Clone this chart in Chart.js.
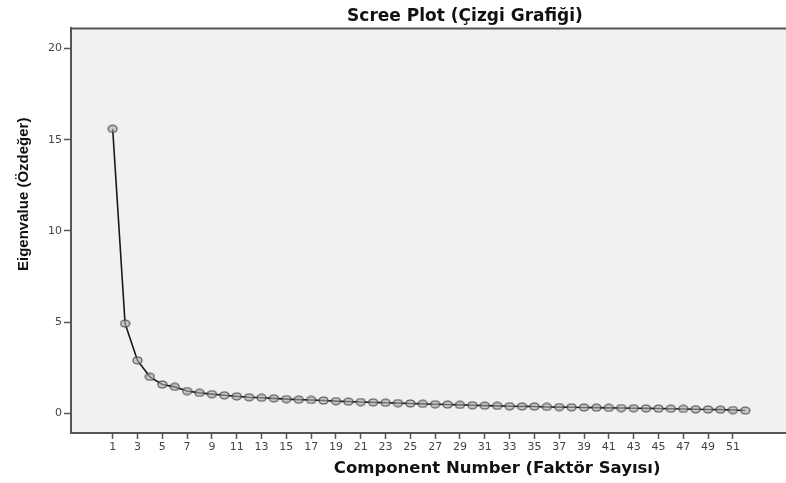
<!DOCTYPE html>
<html>
<head>
<meta charset="utf-8">
<script src="https://cdn.jsdelivr.net/npm/chart.js@4/dist/chart.umd.min.js"></script>
<style>
html,body{margin:0;padding:0;overflow:hidden;background:#fff;width:786px;height:483px;}
canvas{display:block;}
</style>
</head>
<body>
<canvas id="c" width="930" height="483"></canvas>
<script>
const components = [1,2,3,4,5,6,7,8,9,10,11,12,13,14,15,16,17,18,19,20,21,22,23,24,25,26,27,28,29,30,31,32,33,34,35,36,37,38,39,40,41,42,43,44,45,46,47,48,49,50,51,52];
const eigenvalues = [15.6,4.92,2.9,2.0,1.58,1.45,1.22,1.12,1.05,0.99,0.93,0.88,0.85,0.82,0.78,0.75,0.73,0.70,0.67,0.64,0.62,0.60,0.58,0.56,0.54,0.52,0.50,0.48,0.46,0.44,0.42,0.41,0.39,0.38,0.37,0.35,0.34,0.33,0.32,0.31,0.30,0.29,0.28,0.27,0.26,0.25,0.24,0.22,0.21,0.20,0.18,0.15];
const xTickValues = [1,3,5,7,9,11,13,15,17,19,21,23,25,27,29,31,33,35,37,39,41,43,45,47,49,51];
const yTickValues = [0,5,10,15,20];
const titleText = 'Scree Plot (Çizgi Grafiği)';
const xTitle = 'Component Number (Faktör Sayısı)';
const yTitle = 'Eigenvalue (Özdeğer)';

// elliptical marker
const mk = document.createElement('canvas');
mk.width = 11; mk.height = 9;
(function(){
  const g = mk.getContext('2d');
  g.beginPath();
  g.ellipse(5.5, 4.5, 4.5, 3.5, 0, 0, Math.PI*2);
  g.fillStyle = 'rgba(175,175,175,0.6)';
  g.fill();
  g.lineWidth = 1.1;
  g.strokeStyle = '#444';
  g.stroke();
})();

const decor = {
  id: 'decor',
  beforeDraw(chart){
    const {ctx, chartArea:a} = chart;
    ctx.save();
    ctx.fillStyle = '#f0f1f1';
    ctx.fillRect(a.left, a.top, a.right - a.left, a.bottom - a.top);
    ctx.strokeStyle = '#555';
    ctx.lineWidth = 2;
    ctx.beginPath();
    ctx.moveTo(a.left, a.top);
    ctx.lineTo(a.right, a.top);
    ctx.stroke();
    ctx.restore();
  },
  afterDraw(chart){
    const {ctx, chartArea:a} = chart;
    ctx.save();
    ctx.font = 'bold 15px "Liberation Sans", Arial, sans-serif';
    ctx.fillStyle = '#111';
    ctx.textAlign = 'center';
    ctx.textBaseline = 'middle';
    ctx.translate(24, a.top + (a.bottom - a.top) * 0.41);
    ctx.rotate(-Math.PI/2);
    ctx.fillText(yTitle, 0, 0);
    ctx.restore();
  }
};

new Chart(document.getElementById('c'), {
  type: 'line',
  data: {
    datasets: [{
      data: components.map((c,i)=>({x:c, y:eigenvalues[i]})),
      borderColor: '#1a1a1a',
      borderWidth: 1.6,
      tension: 0,
      pointStyle: mk,
      pointRadius: 5,
      pointHoverRadius: 5
    }]
  },
  options: {
    responsive: false,
    animation: false,
    layout: {padding: {left:0, right:0, top:0, bottom:0}},
    plugins: {
      legend: {display:false},
      tooltip: {enabled:false},
      title: {
        display: true,
        text: titleText,
        color: '#111',
        font: {family:'"DejaVu Sans", sans-serif', size:17, weight:'bold'},
        padding: {top:6, bottom:2}
      }
    },
    scales: {
      x: {
        type: 'linear',
        min: -2.36,
        max: 66.36,
        afterBuildTicks(s){ s.ticks = xTickValues.map(v=>({value:v})); },
        afterFit(s){ s.height = 50; },
        ticks: {
          color: '#444',
          font: {family:'"DejaVu Sans", sans-serif', size:11},
          padding: 2,
          maxRotation: 0,
          autoSkip: false,
          callback: v => String(v)
        },
        grid: {drawOnChartArea:false, drawTicks:true, tickLength:6, tickColor:'#555', tickWidth:1.5},
        border: {color:'#555', width:2},
        title: {
          display: true,
          text: xTitle,
          color: '#111',
          font: {family:'"DejaVu Sans", sans-serif', size:16.5, weight:'bold'},
          padding: {top:0, bottom:4}
        }
      },
      y: {
        type: 'linear',
        min: -1.08,
        max: 21.11,
        afterBuildTicks(s){ s.ticks = yTickValues.map(v=>({value:v})); },
        afterFit(s){ s.width = 71; },
        ticks: {
          color: '#444',
          font: {family:'"DejaVu Sans", sans-serif', size:11},
          padding: 2,
          callback: v => String(v)
        },
        grid: {drawOnChartArea:false, drawTicks:true, tickLength:7, tickColor:'#555', tickWidth:1.5},
        border: {color:'#555', width:2}
      }
    }
  },
  plugins: [decor]
});
</script>
</body>
</html>
